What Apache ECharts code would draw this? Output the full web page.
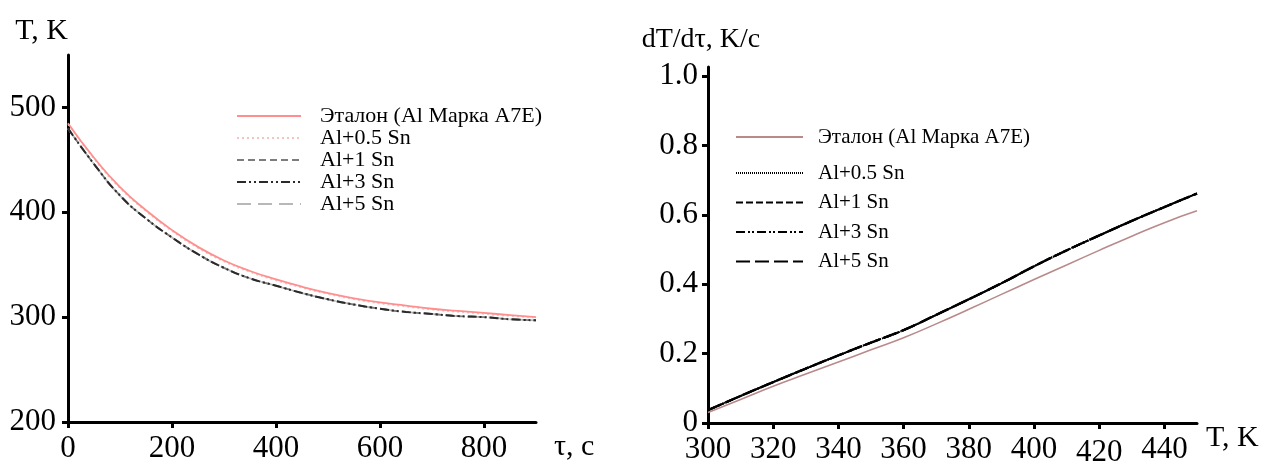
<!DOCTYPE html>
<html><head><meta charset="utf-8">
<script src="https://cdn.jsdelivr.net/npm/echarts@6/dist/echarts.min.js"></script>
<style>html,body{margin:0;padding:0;background:#fff}#c{width:1263px;height:462px}</style>
</head><body><div id="c"></div>
<script>
// ---- Left chart: cooling curves T(τ)
const tau = [0,50,100,150,200,250,300,350,400,450,500,550,600,650,700,750,800,850,900];
const tEtalon = [485,452,424,402,383,367,354,344,336,329,323,318,314,311,308,306,304,302,300];
const tAlloy05 = [484,451,423,401,382,366,353,343,335,328,322,317,313,310,307,305,303,301,299.5];
const tAlloy = [480,446,416,394,376,360,347,337,330,323,317,312,308,305,303,301,300,298,297];
const leftXTicks = [0,200,400,600,800];
const leftYTicks = [200,300,400,500];
// ---- Right chart: cooling rate dT/dτ(T)
const Tk = [300,310,320,330,340,350,360,370,380,390,400,410,420,430,440,450];
const rEtalon = [0.030,0.068,0.106,0.141,0.176,0.211,0.246,0.286,0.328,0.371,0.414,0.456,0.498,0.539,0.578,0.612];
const rAlloy = [0.037,0.078,0.118,0.157,0.195,0.232,0.268,0.312,0.357,0.403,0.452,0.498,0.541,0.583,0.623,0.662];
const rightXTicks = [300,320,340,360,380,400,420,440];
const rightYTicks = [0,0.2,0.4,0.6,0.8,1.0];
const names = ['Эталон (Al Марка А7Е)','Al+0.5 Sn','Al+1 Sn','Al+3 Sn','Al+5 Sn'];
const namesR = names.map(n => n + ' ');

const FF = '"Liberation Serif","Times New Roman",serif';
const zip = (xs, ys) => xs.map((x, i) => [x, ys[i]]);

const axisBase = {
  type: 'value',
  splitLine: {show: false},
  axisLine: {show: true, onZero: false, lineStyle: {color: '#000', width: 3}},
  axisTick: {show: true, length: 6, lineStyle: {color: '#000', width: 3}},
  axisLabel: {color: '#000', fontFamily: FF, fontSize: 31},
  nameTextStyle: {color: '#000', fontFamily: FF, fontSize: 30}
};
function ax(extra) {
  const o = JSON.parse(JSON.stringify(axisBase));
  for (const k in extra) {
    if (typeof extra[k] === 'object' && !Array.isArray(extra[k]) && o[k]) Object.assign(o[k], extra[k]);
    else o[k] = extra[k];
  }
  return o;
}

const leftStyles = [
  {color: '#ff8f8f', width: 1.8, type: 'solid'},
  {color: '#f2c4c4', width: 1.6, type: [2, 3]},
  {color: '#7d7d7d', width: 1.8, type: [7, 4]},
  {color: '#2a2a2a', width: 2, type: [9, 3, 2, 3, 2, 3]},
  {color: '#b8b8b8', width: 1.8, type: [14, 7]}
];
const leftZ = [6, 5, 4, 8, 3];
const leftData = [tEtalon, tAlloy05, tAlloy, tAlloy, tAlloy];
const rightStyles = [
  {color: '#b88a8a', width: 1.6, type: 'solid'},
  {color: '#000', width: 2, type: [1, 1]},
  {color: '#000', width: 2, type: [7, 3]},
  {color: '#000', width: 2, type: [9, 3, 2, 2, 2, 3]},
  {color: '#000', width: 2.4, type: [14, 5]}
];
const rightData = [rEtalon, rAlloy, rAlloy, rAlloy, rAlloy];

const series = [];
names.forEach((n, i) => series.push({
  name: n, type: 'line', xAxisIndex: 0, yAxisIndex: 0, symbol: 'none', smooth: true,
  lineStyle: leftStyles[i], itemStyle: {color: leftStyles[i].color},
  data: zip(tau, leftData[i]), z: leftZ[i]
}));
namesR.forEach((n, i) => series.push({
  name: n, type: 'line', xAxisIndex: 1, yAxisIndex: 1, symbol: 'none', smooth: true,
  lineStyle: rightStyles[i], itemStyle: {color: rightStyles[i].color},
  data: zip(Tk, rightData[i]), z: 10 - i
}));

const legendText = (fs, pad) => ({color: '#000', fontFamily: FF, fontSize: fs, lineHeight: 22, padding: [0, 0, 0, pad]});
const legendCommon = {orient: 'vertical', padding: 0, itemHeight: 14, selectedMode: false,
  itemStyle: {opacity: 0, borderWidth: 0}};

const option = {
  animation: false,
  backgroundColor: '#fff',
  grid: [
    {left: 68, top: 55, width: 468, height: 367, containLabel: false, outerBoundsMode: 'none'},
    {left: 708, top: 67, width: 489, height: 356, containLabel: false, outerBoundsMode: 'none'}
  ],
  xAxis: [
    ax({gridIndex: 0, min: 0, max: 900, interval: 100, name: 'τ, c', nameLocation: 'end', nameGap: 18,
        nameTextStyle: {verticalAlign: 'top', align: 'left', padding: [10, 0, 0, 0]},
        axisTick: {customValues: leftXTicks}, axisLabel: {customValues: leftXTicks, margin: 11}}),
    ax({gridIndex: 1, min: 300, max: 450, interval: 10, name: 'T, K', nameLocation: 'end', nameGap: 9,
        nameTextStyle: {verticalAlign: 'top', align: 'left', padding: [0, 0, 0, 0]},
        axisTick: {customValues: rightXTicks},
        axisLabel: {customValues: rightXTicks, margin: 11,
          formatter: v => v === 420 ? '{low|420}' : String(v),
          rich: {low: {fontFamily: FF, fontSize: 31, color: '#000', padding: [3, 0, 0, 0]}}}})
  ],
  yAxis: [
    ax({gridIndex: 0, min: 200, max: 550, interval: 50, name: 'T, K', nameLocation: 'end', nameGap: 24,
        nameTextStyle: {align: 'right', verticalAlign: 'middle'},
        axisTick: {customValues: leftYTicks}, axisLabel: {customValues: leftYTicks, margin: 12}}),
    ax({gridIndex: 1, min: 0, max: 1.027, interval: 0.2, name: 'dT/dτ, K/c', nameLocation: 'end', nameGap: 27,
        nameTextStyle: {align: 'center', verticalAlign: 'middle', fontSize: 28, padding: [0, 14, 0, 0]},
        axisTick: {customValues: rightYTicks},
        axisLabel: {customValues: rightYTicks, margin: 10, formatter: v => v === 0 ? '0' : v.toFixed(1)}})
  ],
  legend: [
    Object.assign({}, legendCommon, {left: 236, top: 105, itemWidth: 64, itemGap: 0,
      data: names, textStyle: legendText(22, 14)}),
    Object.assign({}, legendCommon, {left: 735, top: 126, itemWidth: 67, itemGap: 0,
      data: [namesR[0]], textStyle: legendText(21, 10)}),
    Object.assign({}, legendCommon, {left: 735, top: 162, itemWidth: 67, itemGap: 7.5,
      data: namesR.slice(1), textStyle: legendText(21, 10)})
  ],
  series: series
};
const chart = echarts.init(document.getElementById('c'), null, {renderer: 'canvas'});
chart.setOption(option);
</script></body></html>
